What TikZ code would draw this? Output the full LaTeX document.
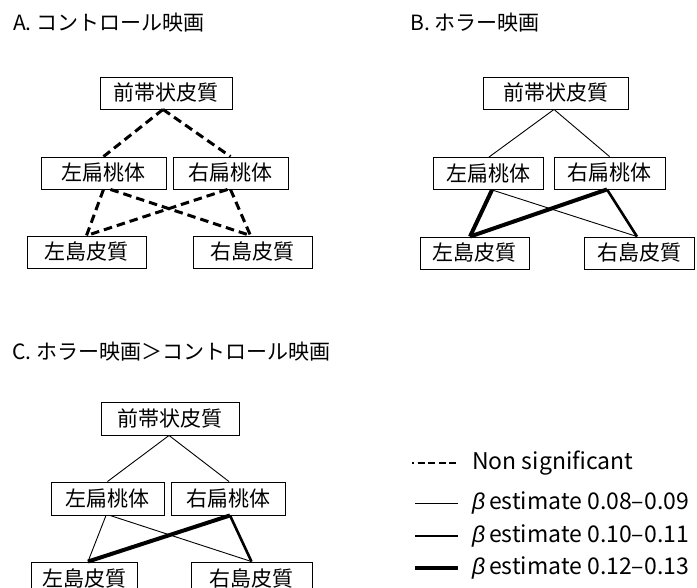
\documentclass[tikz,border=0pt]{standalone}
\usepackage{fontspec}
\setmainfont{Noto Sans CJK JP}
\newfontfamily\betafont{Liberation Sans}
\begin{document}
\begin{tikzpicture}[x=1pt,y=-1pt,
  box/.style={draw, line width=0.9pt, minimum height=32pt, inner sep=0pt, font=\fontsize{21}{22}\selectfont},
  ttl/.style={anchor=west, inner sep=0pt, font=\fontsize{21}{22}\selectfont},
  ns/.style={line width=3pt, dash pattern=on 8.5pt off 5pt},
  thinl/.style={line width=0.9pt},
  medl/.style={line width=2.6pt},
  thickl/.style={line width=4pt},
  lgt/.style={anchor=west, inner sep=0pt, font=\fontsize{23}{24}\selectfont}]
\useasboundingbox (0,0) rectangle (697,588);
% Panel A
\node[ttl] (ta) at (13,23) {A. コントロール映画};
\node[box, minimum width=132pt] (aT) at (166,93) {前帯状皮質};
\node[box, minimum width=125pt] (aL) at (103.5,173) {左扁桃体};
\node[box, minimum width=115pt] (aR) at (230.5,173) {右扁桃体};
\node[box, minimum width=119pt] (aLI) at (86.5,252) {左島皮質};
\node[box, minimum width=119pt] (aRI) at (252.5,252) {右島皮質};
\draw[ns] ([xshift=-3pt]aT.south) -- (aL.north);
\draw[ns] ([xshift=-3pt]aT.south) -- (aR.north);
\draw[ns] (aL.south) -- (aLI.north);
\draw[ns] ([xshift=7pt]aL.south) -- ([xshift=-2pt]aRI.north);
\draw[ns] ([xshift=-3pt]aR.south) -- (aLI.north);
\draw[ns] (aR.south) -- ([xshift=-2pt]aRI.north);
% Panel B
\node[ttl] (tb) at (410,23) {B. ホラー映画};
\node[box, minimum width=145pt] (bT) at (555.5,93) {前帯状皮質};
\node[box, minimum width=110pt] (bL) at (488,173.5) {左扁桃体};
\node[box, minimum width=111pt] (bR) at (609.5,173) {右扁桃体};
\node[box, minimum width=109pt] (bLI) at (474.5,253) {左島皮質};
\node[box, minimum width=110pt] (bRI) at (639,253) {右島皮質};
\draw[thinl] ([xshift=-1.5pt]bT.south) -- ([xshift=1pt]bL.north);
\draw[thinl] ([xshift=-1.5pt]bT.south) -- (bR.north);
\draw[thickl] ([xshift=4pt]bL.south) -- ([xshift=-4.5pt]bLI.north);
\draw[thinl] ([xshift=4pt]bL.south) -- ([xshift=-2pt]bRI.north);
\draw[thickl] ([xshift=-2.5pt]bR.south) -- ([xshift=-4.5pt]bLI.north);
\draw[medl] ([xshift=-2.5pt]bR.south) -- ([xshift=-2pt]bRI.north);
% Panel C
\node[ttl] (tc) at (12,352) {C. ホラー映画＞コントロール映画};
\node[box, minimum width=138pt, minimum height=33pt] (cT) at (170,418.5) {前帯状皮質};
\node[box, minimum width=113pt, minimum height=33pt] (cL) at (107.5,498.5) {左扁桃体};
\node[box, minimum width=114pt, minimum height=33pt] (cR) at (228,498.5) {右扁桃体};
\node[box, minimum width=106pt, minimum height=33pt] (cLI) at (84,578.5) {左島皮質};
\node[box, minimum width=121pt, minimum height=33pt] (cRI) at (251.5,578.5) {右島皮質};
\draw[thinl] ([xshift=-1pt]cT.south) -- (cL.north);
\draw[thinl] ([xshift=-1pt]cT.south) -- ([xshift=1pt]cR.north);
\draw[thinl] ([xshift=-1.5pt]cL.south) -- ([xshift=4pt]cLI.north);
\draw[thinl] ([xshift=2.5pt]cL.south) -- (cRI.north);
\draw[thickl] ([xshift=2pt]cR.south) -- ([xshift=4pt]cLI.north);
\draw[medl] ([xshift=2pt]cR.south) -- (cRI.north);
% Legend
\coordinate (l1a) at (412,463); \coordinate (l1b) at (457,463);
\coordinate (l2a) at (415,503); \coordinate (l2b) at (458,503);
\coordinate (l3a) at (415,536); \coordinate (l3b) at (458,536);
\coordinate (l4a) at (415,568); \coordinate (l4b) at (458,568);
\draw[line width=2.3pt, dash pattern=on 7pt off 3.5pt, dash phase=5pt] (l1a) -- (l1b);
\draw[thinl] (l2a) -- (l2b);
\draw[medl] (l3a) -- (l3b);
\draw[thickl] (l4a) -- (l4b);
\node[lgt] (t1) at (472,463) {Non significant};
\node[lgt] (t2) at (472,503) {{\betafont\itshape β}\,estimate 0.08–0.09};
\node[lgt] (t3) at (472,536) {{\betafont\itshape β}\,estimate 0.10–0.11};
\node[lgt] (t4) at (472,568) {{\betafont\itshape β}\,estimate 0.12–0.13};
\end{tikzpicture}
\end{document}
